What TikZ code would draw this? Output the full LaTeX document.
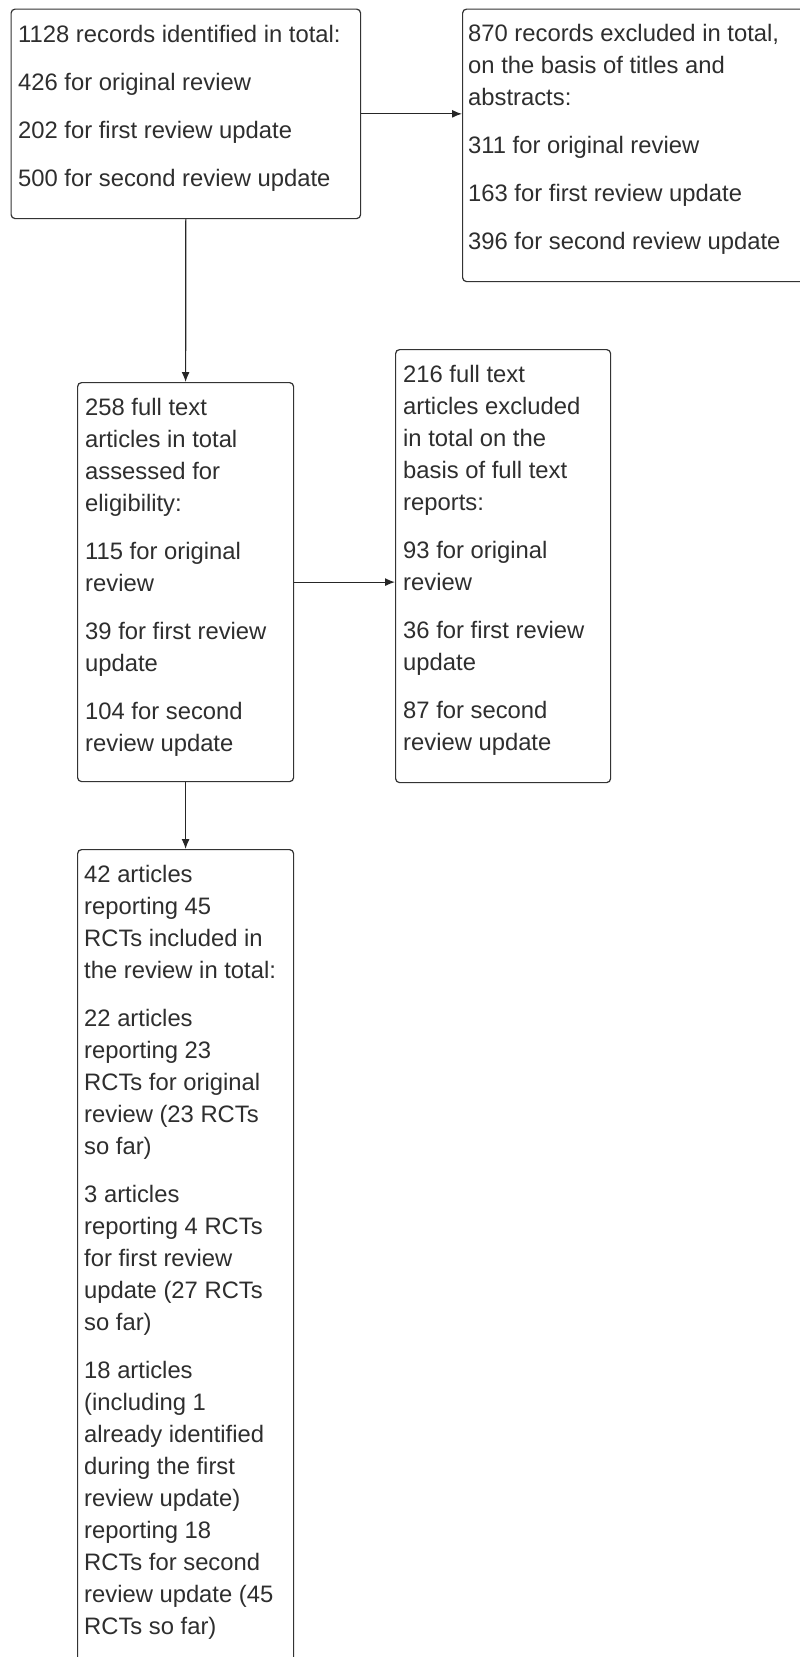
\documentclass[tikz,border=0pt]{standalone}
\usepackage{fontspec}
\setmainfont{Liberation Sans}
\usetikzlibrary{arrows.meta}
\newcommand\txtlines[1]{\vtop{\fontsize{23.8pt}{32pt}\selectfont #1}}
\newcommand\lineT[1]{\hbox{#1}}
\newcommand\pgap{\vskip16pt}
\tikzset{
  box/.style={draw=black!80, line width=1.2pt, rounded corners=4pt, inner sep=0pt, anchor=north west},
  txt/.style={anchor=base west, inner sep=0pt, text=black!82},
  arr/.style={draw=black!85, line width=1.2pt, -{Latex[length=10pt,width=8pt]}}
}
\begin{document}
\begin{tikzpicture}[x=1pt,y=-1pt]
\useasboundingbox (0,0) rectangle (800,1657);
\clip (0,0) rectangle (800,1657);
\fill[white] (0,0) rectangle (800,1657);

\node[box, minimum width=349.5pt, minimum height=209.5pt] (A) at (10.5,8.5) {};
\node[box, minimum width=350pt, minimum height=272.5pt] (B) at (462,8.5) {};
\node[box, minimum width=216pt, minimum height=399pt] (C) at (77,382) {};
\node[box, minimum width=215pt, minimum height=433pt] (D) at (395,349) {};
\node[box, minimum width=216pt, minimum height=850pt] (E) at (77,849) {};

\node[txt] (tA) at (18,42) {\txtlines{%
\lineT{1128 records identified in total:}\pgap
\lineT{426 for original review}\pgap
\lineT{202 for first review update}\pgap
\lineT{500 for second review update}}};

\node[txt] (tB) at (468,41) {\txtlines{%
\lineT{870 records excluded in total,}
\lineT{on the basis of titles and}
\lineT{abstracts:}\pgap
\lineT{311 for original review}\pgap
\lineT{163 for first review update}\pgap
\lineT{396 for second review update}}};

\node[txt] (tC) at (85,415) {\txtlines{%
\lineT{258 full text}
\lineT{articles in total}
\lineT{assessed for}
\lineT{eligibility:}\pgap
\lineT{115 for original}
\lineT{review}\pgap
\lineT{39 for first review}
\lineT{update}\pgap
\lineT{104 for second}
\lineT{review update}}};

\node[txt] (tD) at (403,382) {\txtlines{%
\lineT{216 full text}
\lineT{articles excluded}
\lineT{in total on the}
\lineT{basis of full text}
\lineT{reports:}\pgap
\lineT{93 for original}
\lineT{review}\pgap
\lineT{36 for first review}
\lineT{update}\pgap
\lineT{87 for second}
\lineT{review update}}};

\node[txt] (tE) at (84,882) {\txtlines{%
\lineT{42 articles}
\lineT{reporting 45}
\lineT{RCTs included in}
\lineT{the review in total:}\pgap
\lineT{22 articles}
\lineT{reporting 23}
\lineT{RCTs for original}
\lineT{review (23 RCTs}
\lineT{so far)}\pgap
\lineT{3 articles}
\lineT{reporting 4 RCTs}
\lineT{for first review}
\lineT{update (27 RCTs}
\lineT{so far)}\pgap
\lineT{18 articles}
\lineT{(including 1}
\lineT{already identified}
\lineT{during the first}
\lineT{review update)}
\lineT{reporting 18}
\lineT{RCTs for second}
\lineT{review update (45}
\lineT{RCTs so far)}}};

\draw[arr] (A.east) -- (A.east -| B.west);
\draw[arr] (A.south) -- (C.north);
\draw[arr] (C.east) -- (C.east -| D.west);
\draw[arr] (C.south) -- (E.north);
\end{tikzpicture}
\end{document}
